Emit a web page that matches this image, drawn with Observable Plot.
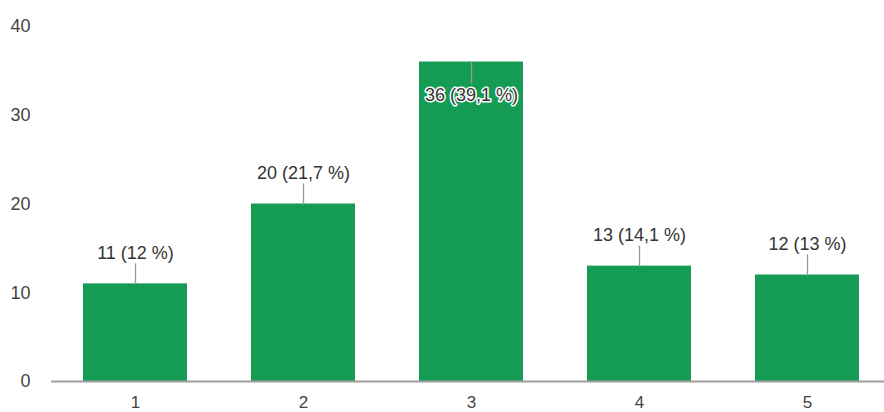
<!DOCTYPE html>
<html>
<head>
<meta charset="utf-8">
<script src="https://cdn.jsdelivr.net/npm/d3@7"></script>
<script src="https://cdn.jsdelivr.net/npm/@observablehq/plot@0.6"></script>
<style>
  html, body { margin: 0; padding: 0; background: #fff; }
  #chart svg { display: block; }
</style>
</head>
<body>
<div id="chart"></div>
<script>
const categories = ["1", "2", "3", "4", "5"];
const counts = [11, 20, 36, 13, 12];
const percents = ["12", "21,7", "39,1", "14,1", "13"];
const yTicks = [0, 10, 20, 30, 40];

const data = categories.map((c, i) => ({
  cat: c,
  count: counts[i],
  label: `${counts[i]} (${percents[i]} %)`
}));
const maxCount = d3.max(counts);
const outside = data.filter(d => d.count < maxCount);
const inside = data.filter(d => d.count === maxCount);

const stem = { draw(context, l) { context.moveTo(0, 0); context.lineTo(0, -l); } };
const green = "#149c55";
const font = "'Liberation Sans', Arial, sans-serif";

const chart = Plot.plot({
  width: 884,
  height: 412,
  marginLeft: 51,
  marginRight: 0,
  marginTop: 26,
  marginBottom: 31,
  style: { fontFamily: font, fontSize: "18px", color: "#444", background: "#fff" },
  x: { domain: categories, range: [51, 891], paddingInner: 0.38, paddingOuter: 0.19, label: null },
  y: { domain: [0, 40], ticks: yTicks, label: null },
  marks: [
    Plot.axisY({ ticks: yTicks, tickSize: 0, tickPadding: 21, label: null, fill: "#444" }),
    Plot.axisX({ tickSize: 0, tickPadding: 14, label: null, fill: "#444", fontSize: 17 }),
    Plot.barY(data, { x: "cat", y: "count", fill: green }),
    Plot.ruleY([0], { stroke: "#9e9e9e", strokeWidth: 2 }),
    Plot.vector(outside, { x: "cat", y: "count", length: 20, rotate: 0, anchor: "start", shape: stem, stroke: "#999", strokeWidth: 1.3 }),
    Plot.vector(inside, { x: "cat", y: "count", length: 21, rotate: 180, anchor: "start", shape: stem, stroke: "#999", strokeWidth: 1.3 }),
    Plot.text(outside, { x: "cat", y: "count", text: "label", dy: -31, fill: "#333", fontSize: 18 }),
    Plot.text(inside, { x: "cat", y: "count", text: "label", dy: 33, fill: "#333", stroke: "#fff", strokeWidth: 3, fontSize: 18 })
  ]
});
document.getElementById("chart").appendChild(chart);
</script>
</body>
</html>
